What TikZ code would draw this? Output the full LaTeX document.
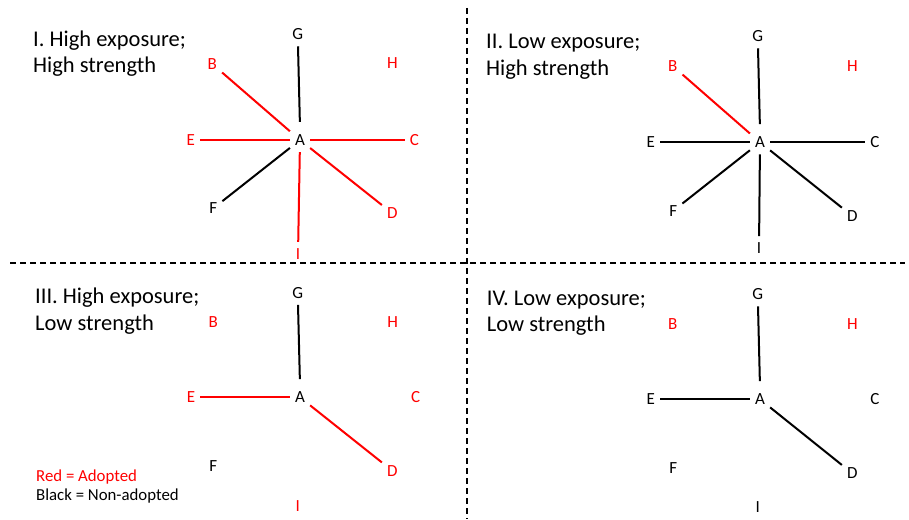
\documentclass[tikz,border=0pt]{standalone}
\usepackage{fontspec}
\setmainfont{Carlito}
\tikzset{
  lbl/.style={font=\fontsize{17}{20}\selectfont, inner xsep=5pt, inner ysep=6.5pt},
  rl/.style={lbl, text=red},
  bl/.style={lbl, text=black},
  title/.style={font=\fontsize{22.5}{26}\selectfont, anchor=base west, inner sep=0pt},
  legend/.style={font=\fontsize{16.8}{19}\selectfont, anchor=base west, inner sep=0pt},
  edge/.style={line width=2pt},
  redge/.style={edge, red},
  upedge/.style={edge, shorten <=6pt},
  divider/.style={line width=1.9pt, dash pattern=on 6pt off 4pt},
}
\begin{document}
\begin{tikzpicture}[x=1pt,y=-1pt]
\useasboundingbox[fill=white] (0,0) rectangle (909,519);

% dividers
\coordinate (hL) at (10,263);
\coordinate (hR) at (905,263);
\coordinate (vT) at (467,8);
\coordinate (vB) at (467,519);
\draw[divider] (hL) -- (hR);
\draw[divider] (vT) -- (vB);

% ---------- Panel I ----------
\node[title] (t1a) at (33,46.7) {I. High exposure;};
\node[title] (t1b) at (33,72.7) {High strength};
\node[bl] (1A) at (300,140) {A};
\node[rl] (1B) at (212.3,64) {B};
\node[rl] (1C) at (414.3,140) {C};
\node[rl] (1D) at (392.3,213.3) {D};
\node[rl] (1E) at (190.7,140) {E};
\node[bl] (1F) at (213.3,208.3) {F};
\node[bl] (1G) at (297.7,34) {G};
\node[rl] (1H) at (392.3,63.5) {H};
\node[rl] (1I) at (298,254) {I};
\draw[redge] (1A) -- (1B);
\draw[redge] (1A) -- (1C);
\draw[redge] (1A) -- (1D);
\draw[redge] (1A) -- (1E);
\draw[edge] (1A) -- (1F);
\draw[upedge] (1A.north) -- (1G);
\draw[redge] (1A) -- (1I);

% ---------- Panel II ----------
\node[title] (t2a) at (486,48.3) {II. Low exposure;};
\node[title] (t2b) at (486,75.5) {High strength};
\node[bl] (2A) at (760,142.3) {A};
\node[rl] (2B) at (672.7,66) {B};
\node[bl] (2C) at (875,142.3) {C};
\node[bl] (2D) at (852.3,216) {D};
\node[bl] (2E) at (650.7,142.3) {E};
\node[bl] (2F) at (673.3,210.7) {F};
\node[bl] (2G) at (757.7,36) {G};
\node[rl] (2H) at (852.3,66) {H};
\node[bl] (2I) at (759,248.3) {I};
\draw[redge] (2A) -- (2B);
\draw[edge] (2A) -- (2C);
\draw[edge] (2A) -- (2D);
\draw[edge] (2A) -- (2E);
\draw[edge] (2A) -- (2F);
\draw[upedge] (2A.north) -- (2G);
\draw[edge] (2A) -- (2I);

% ---------- Panel III ----------
\node[title] (t3a) at (35,303.3) {III. High exposure;};
\node[title] (t3b) at (35,330.7) {Low strength};
\node[bl] (3A) at (300,397.3) {A};
\node[rl] (3B) at (213.3,321.7) {B};
\node[rl] (3C) at (415.7,397.3) {C};
\node[rl] (3D) at (392.3,470.7) {D};
\node[rl] (3E) at (191,397.3) {E};
\node[bl] (3F) at (213.3,465.7) {F};
\node[bl] (3G) at (297.7,292.7) {G};
\node[rl] (3H) at (392.7,321.7) {H};
\node[rl] (3I) at (297.7,506) {I};
\draw[upedge] (3A.north) -- (3G);
\draw[redge] (3A) -- (3E);
\draw[redge] (3A) -- (3D);
\node[legend, text=red] (leg1) at (36,481.7) {Red = Adopted};
\node[legend] (leg2) at (36,500.7) {Black = Non-adopted};

% ---------- Panel IV ----------
\node[title] (t4a) at (486.7,305) {IV. Low exposure;};
\node[title] (t4b) at (486.7,331.7) {Low strength};
\node[bl] (4A) at (760,399.3) {A};
\node[rl] (4B) at (672.7,324) {B};
\node[bl] (4C) at (875,399.3) {C};
\node[bl] (4D) at (852.3,473.3) {D};
\node[bl] (4E) at (650.7,399.3) {E};
\node[bl] (4F) at (673.3,468.3) {F};
\node[bl] (4G) at (757.7,294) {G};
\node[rl] (4H) at (852.3,324) {H};
\node[bl] (4I) at (757.7,506.7) {I};
\draw[upedge] (4A.north) -- (4G);
\draw[edge] (4A) -- (4E);
\draw[edge] (4A) -- (4D);
\end{tikzpicture}
\end{document}
